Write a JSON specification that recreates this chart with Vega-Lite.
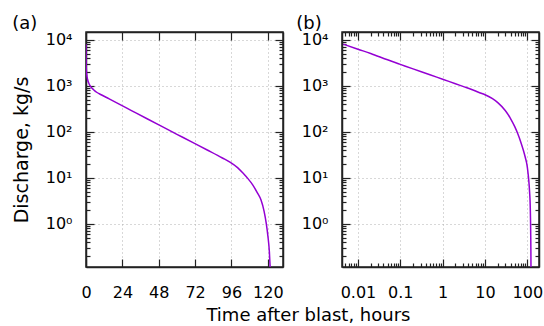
{
  "$schema": "https://vega.github.io/schema/vega-lite/v6.json",
  "background": "white",
  "padding": {"left": 11, "top": 14, "right": 2, "bottom": 0},
  "config": {
    "font": "DejaVu Sans",
    "view": {"stroke": "#222", "strokeWidth": 1.5},
    "axis": {
      "domain": true, "domainColor": "#222", "domainWidth": 1.5,
      "tickColor": "#222", "tickWidth": 1.2,
      "labelFont": "DejaVu Sans", "labelFontSize": 16, "labelColor": "#000",
      "titleFont": "DejaVu Sans", "titleFontSize": 19, "titleFontWeight": "normal", "titleColor": "#000",
      "gridColor": "#b0b0b0", "gridDash": [1, 3], "gridWidth": 1,
      "labelOverlap": false, "labelBound": false, "labelFlush": false
    },
    "title": {"font": "DejaVu Sans", "fontWeight": "normal", "color": "#000"}
  },
  "datasets": {
    "d": [
      {"t": 0.0045, "q": 8100}, {"t": 0.01, "q": 6300}, {"t": 0.02, "q": 5100},
      {"t": 0.05, "q": 3700}, {"t": 0.1, "q": 2950}, {"t": 0.2, "q": 2350},
      {"t": 0.5, "q": 1760}, {"t": 1, "q": 1400}, {"t": 2, "q": 1120},
      {"t": 3, "q": 980}, {"t": 5, "q": 830}, {"t": 7, "q": 730},
      {"t": 10, "q": 645}, {"t": 15, "q": 530}, {"t": 20, "q": 435},
      {"t": 30, "q": 292}, {"t": 40, "q": 196}, {"t": 50, "q": 132},
      {"t": 60, "q": 89}, {"t": 70, "q": 60}, {"t": 80, "q": 40.5},
      {"t": 90, "q": 27.2}, {"t": 95, "q": 22.1}, {"t": 100, "q": 16.8},
      {"t": 104, "q": 12.3}, {"t": 107, "q": 9.55}, {"t": 110, "q": 7.08},
      {"t": 113, "q": 4.8}, {"t": 115.5, "q": 3.3}, {"t": 117.5, "q": 1.9},
      {"t": 119, "q": 1.0}, {"t": 120, "q": 0.56}, {"t": 121, "q": 0.25},
      {"t": 121.6, "q": 0.1}, {"t": 121.8, "q": 0.07}
    ]
  },
  "title": {"text": "Time after blast, hours", "orient": "bottom", "anchor": "middle", "fontSize": 18, "offset": 2, "dx": 31},
  "spacing": 10,
  "hconcat": [
    {
      "width": 197, "height": 235,
      "title": {"text": "(a)", "anchor": "start", "frame": "bounds", "fontSize": 18, "offset": -2},
      "layer": [
        {
          "data": {"name": "d"},
          "mark": {"type": "line", "color": "#9400d3", "strokeWidth": 1.5, "clip": true, "interpolate": "monotone"},
          "encoding": {
            "x": {"field": "t", "type": "quantitative",
              "scale": {"domain": [0, 130], "nice": false, "zero": false},
              "axis": {"orient": "bottom", "title": null, "values": [0, 24, 48, 72, 96, 120],
                "tickSize": -8, "labelPadding": 25, "grid": true,
                "gridOpacity": {"condition": {"test": "datum.value > 0", "value": 1}, "value": 0}}},
            "y": {"field": "q", "type": "quantitative",
              "scale": {"type": "log", "domain": [0.116, 14900], "nice": false},
              "axis": {"orient": "left", "title": "Discharge, kg/s", "titlePadding": 14,
                "values": [0.2,0.3,0.4,0.5,0.6,0.7,0.8,0.9,1,2,3,4,5,6,7,8,9,10,20,30,40,50,60,70,80,90,100,200,300,400,500,600,700,800,900,1000,2000,3000,4000,5000,6000,7000,8000,9000,10000],
                "labelExpr": "indexof([1,10,100,1000,10000], datum.value) >= 0 ? '10' + ['⁰','¹','²','³','⁴'][round(log(datum.value)/LN10)] : ''",
                "tickSize": {"condition": {"test": "indexof([1,10,100,1000,10000], datum.value) >= 0", "value": -8}, "value": -4},
                "labelPadding": 22, "grid": true,
                "gridOpacity": {"condition": {"test": "indexof([1,10,100,1000,10000], datum.value) >= 0", "value": 1}, "value": 0}}}
          }
        },
        {
          "data": {"name": "d"},
          "mark": {"type": "line", "opacity": 0, "clip": true},
          "encoding": {
            "x": {"field": "t", "type": "quantitative",
              "axis": {"orient": "top", "title": null, "labels": false, "grid": false, "values": [0, 24, 48, 72, 96, 120], "tickSize": -8}},
            "y": {"field": "q", "type": "quantitative",
              "axis": {"orient": "right", "title": null, "labels": false, "grid": false,
                "values": [0.2,0.3,0.4,0.5,0.6,0.7,0.8,0.9,1,2,3,4,5,6,7,8,9,10,20,30,40,50,60,70,80,90,100,200,300,400,500,600,700,800,900,1000,2000,3000,4000,5000,6000,7000,8000,9000,10000],
                "tickSize": {"condition": {"test": "indexof([1,10,100,1000,10000], datum.value) >= 0", "value": -8}, "value": -4}}}
          }
        }
      ],
      "resolve": {"axis": {"x": "independent", "y": "independent"}}
    },
    {
      "width": 197, "height": 235,
      "title": {"text": "(b)", "anchor": "start", "frame": "bounds", "fontSize": 18, "offset": -2, "dx": -5},
      "layer": [
        {
          "data": {"name": "d"},
          "mark": {"type": "line", "color": "#9400d3", "strokeWidth": 1.5, "clip": true, "interpolate": "monotone"},
          "encoding": {
            "x": {"field": "t", "type": "quantitative",
              "scale": {"type": "log", "domain": [0.0042, 188], "nice": false},
              "axis": {"orient": "bottom", "title": null,
                "values": [0.005,0.006,0.007,0.008,0.009,0.01,0.02,0.03,0.04,0.05,0.06,0.07,0.08,0.09,0.1,0.2,0.3,0.4,0.5,0.6,0.7,0.8,0.9,1,2,3,4,5,6,7,8,9,10,20,30,40,50,60,70,80,90,100],
                "labelExpr": "indexof([0.01,0.1,1,10,100], datum.value) >= 0 ? '' + datum.value : ''",
                "tickSize": {"condition": {"test": "indexof([0.01,0.1,1,10,100], datum.value) >= 0", "value": -8}, "value": -4},
                "labelPadding": 25, "grid": true,
                "gridOpacity": {"condition": {"test": "indexof([0.01,0.1,1,10,100], datum.value) >= 0", "value": 1}, "value": 0}}},
            "y": {"field": "q", "type": "quantitative",
              "scale": {"type": "log", "domain": [0.116, 14900], "nice": false},
              "axis": {"orient": "left", "title": null,
                "values": [0.2,0.3,0.4,0.5,0.6,0.7,0.8,0.9,1,2,3,4,5,6,7,8,9,10,20,30,40,50,60,70,80,90,100,200,300,400,500,600,700,800,900,1000,2000,3000,4000,5000,6000,7000,8000,9000,10000],
                "labelExpr": "indexof([1,10,100,1000,10000], datum.value) >= 0 ? '10' + ['⁰','¹','²','³','⁴'][round(log(datum.value)/LN10)] : ''",
                "tickSize": {"condition": {"test": "indexof([1,10,100,1000,10000], datum.value) >= 0", "value": -8}, "value": -4},
                "labelPadding": 22, "grid": true,
                "gridOpacity": {"condition": {"test": "indexof([1,10,100,1000,10000], datum.value) >= 0", "value": 1}, "value": 0}}}
          }
        },
        {
          "data": {"name": "d"},
          "mark": {"type": "line", "opacity": 0, "clip": true},
          "encoding": {
            "x": {"field": "t", "type": "quantitative",
              "axis": {"orient": "top", "title": null, "labels": false, "grid": false,
                "values": [0.005,0.006,0.007,0.008,0.009,0.01,0.02,0.03,0.04,0.05,0.06,0.07,0.08,0.09,0.1,0.2,0.3,0.4,0.5,0.6,0.7,0.8,0.9,1,2,3,4,5,6,7,8,9,10,20,30,40,50,60,70,80,90,100],
                "tickSize": {"condition": {"test": "indexof([0.01,0.1,1,10,100], datum.value) >= 0", "value": -8}, "value": -4}}},
            "y": {"field": "q", "type": "quantitative",
              "axis": {"orient": "right", "title": null, "labels": false, "grid": false,
                "values": [0.2,0.3,0.4,0.5,0.6,0.7,0.8,0.9,1,2,3,4,5,6,7,8,9,10,20,30,40,50,60,70,80,90,100,200,300,400,500,600,700,800,900,1000,2000,3000,4000,5000,6000,7000,8000,9000,10000],
                "tickSize": {"condition": {"test": "indexof([1,10,100,1000,10000], datum.value) >= 0", "value": -8}, "value": -4}}}
          }
        }
      ],
      "resolve": {"axis": {"x": "independent", "y": "independent"}}
    }
  ]
}
